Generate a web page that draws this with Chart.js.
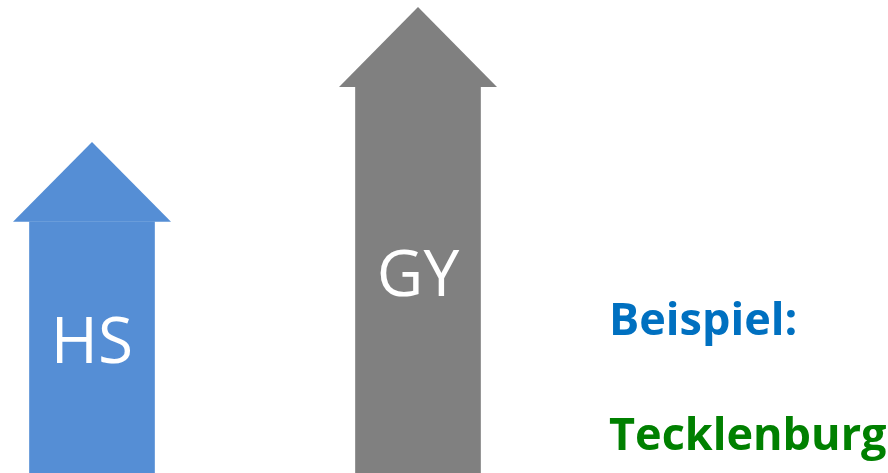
<!DOCTYPE html>
<html>
<head>
<meta charset="utf-8">
<script src="https://cdn.jsdelivr.net/npm/chart.js@4.4.1/dist/chart.umd.min.js"></script>
<style>
html, body { margin: 0; padding: 0; background: #ffffff; overflow: hidden; }
#wrap { width: 888px; height: 473px; position: relative; }
</style>
</head>
<body>
<div id="wrap"><canvas id="c" width="888" height="473"></canvas></div>
<script>
// ---- data (arbitrary units: 0 = bottom edge, 100 = top edge) ----
const categories = ['HS', 'GY'];
const shaftValues = [53.1, 81.6];     // top of the arrow shaft
const headLengths = [16.9, 16.9];     // length of the arrow head
const noteLines = ['Beispiel:', 'Tecklenburg'];

const arrowColors = ['#558ED5', '#808080'];
const noteColors = ['#0070C0', '#008000'];

const arrowPlugin = {
  id: 'arrows',
  afterDatasetsDraw(chart, args, opts) {
    const ctx = chart.ctx;
    const meta = chart.getDatasetMeta(0);
    const yScale = chart.scales.y;
    meta.data.forEach((bar, i) => {
      const top = bar.y;
      const tip = yScale.getPixelForValue(shaftValues[i] + headLengths[i]);
      const half = opts.headWidth / 2;
      ctx.save();
      ctx.fillStyle = arrowColors[i];
      ctx.beginPath();
      ctx.moveTo(bar.x - half, top);
      ctx.lineTo(bar.x, tip);
      ctx.lineTo(bar.x + half, top);
      ctx.closePath();
      ctx.fill();
      ctx.fillStyle = '#ffffff';
      ctx.font = '64px "Open Sans"';
      ctx.textAlign = 'center';
      ctx.textBaseline = 'alphabetic';
      ctx.fillText(categories[i], bar.x, (bar.y + bar.base) / 2 + opts.labelDrop);
      ctx.restore();
    });
  },
  afterDraw(chart, args, opts) {
    const ctx = chart.ctx;
    ctx.save();
    ctx.font = '700 45px "Open Sans"';
    ctx.textAlign = 'left';
    ctx.textBaseline = 'alphabetic';
    noteLines.forEach((t, i) => {
      ctx.fillStyle = noteColors[i];
      ctx.fillText(t, opts.noteX, opts.noteY[i]);
    });
    ctx.restore();
  }
};

function build() {
  new Chart(document.getElementById('c'), {
    type: 'bar',
    data: {
      labels: categories,
      datasets: [{
        data: shaftValues,
        backgroundColor: arrowColors,
        borderWidth: 0,
        barThickness: 125,
        clip: false
      }]
    },
    options: {
      responsive: false,
      animation: false,
      layout: { padding: { left: 92, right: 470, top: 0, bottom: 0 } },
      scales: {
        x: { display: false, offset: false, grid: { display: false } },
        y: { display: false, min: 0, max: 100, grid: { display: false } }
      },
      plugins: {
        legend: { display: false },
        tooltip: { enabled: false },
        title: { display: false },
        arrows: { headWidth: 158, labelDrop: 16, noteX: 609, noteY: [335, 450] }
      }
    },
    plugins: [arrowPlugin]
  });
}

Promise.all([
  document.fonts.load('64px "Open Sans"'),
  document.fonts.load('700 45px "Open Sans"')
]).then(build, build);
</script>
</body>
</html>
